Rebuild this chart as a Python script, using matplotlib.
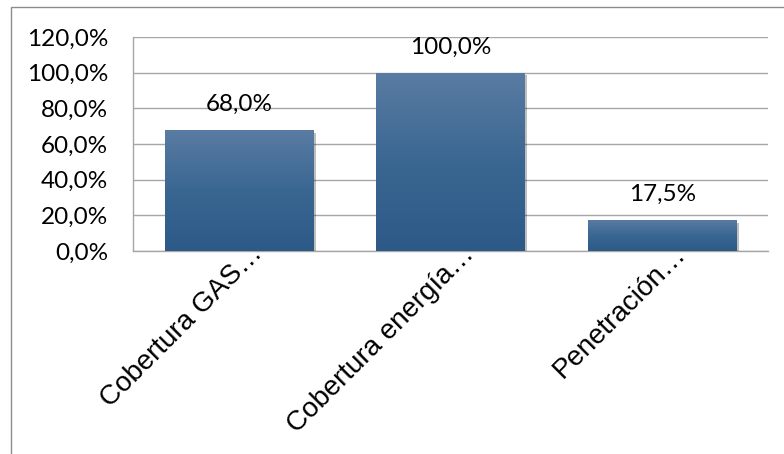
import matplotlib.pyplot as plt
import matplotlib.patheffects as pe
import matplotlib.transforms as mtrans
from matplotlib.patches import Rectangle
from matplotlib.colors import LinearSegmentedColormap
import numpy as np

# datos
categorias = ['Cobertura GAS…', 'Cobertura energía…', 'Penetración…']
valores = [68.0, 100.0, 17.5]
ticks_y = [0, 20, 40, 60, 80, 100, 120]

W, H = 784, 454
fig = plt.figure(figsize=(W / 100, H / 100), dpi=100)

# marco exterior del gráfico (sale del recorte por la derecha y abajo)
fig.patches.append(Rectangle((11 / W, -0.1), 1.2, 1 - 7 / H + 0.1,
                             transform=fig.transFigure, fill=False,
                             edgecolor='#8c8c8c', linewidth=1.0))

ax = fig.add_axes([133 / W, 1 - 251 / H, (768 - 133) / W, (251 - 37) / H])

x = np.arange(len(categorias))
barras = ax.bar(x, valores, width=0.7, color='#2e5a87', zorder=3,
                path_effects=[pe.SimplePatchShadow(offset=(2, -2), alpha=0.25,
                                                   shadow_rgbFace='k'),
                              pe.Normal()])

# degradado vertical en cada barra
grad = np.linspace(0, 1, 256).reshape(-1, 1)
cmap = LinearSegmentedColormap.from_list('barra', ['#2c5986', '#3a6792', '#5a7ca3'])
for b in barras:
    x0, y0 = b.get_x(), b.get_y()
    w, h = b.get_width(), b.get_height()
    im = ax.imshow(grad, cmap=cmap, origin='lower', aspect='auto',
                   extent=[x0, x0 + w, y0, y0 + h], zorder=4)
    im.set_clip_path(b)

for xi, v in zip(x, valores):
    ax.annotate(f'{v:.1f}%'.replace('.', ','), (xi, v), xytext=(0, 11),
                textcoords='offset points', ha='center', va='bottom',
                fontsize=17.5, family='Lato', color='#000000')

ax.set_xlim(-0.5, len(categorias) - 0.5)
ax.set_ylim(0, 120)
ax.set_yticks(ticks_y)
ax.set_yticklabels([f'{t:.1f}%'.replace('.', ',') for t in ticks_y],
                   fontsize=17.5, family='Lato')
ax.yaxis.grid(True, color='#a6a6a6', linewidth=1.0, zorder=0)
ax.set_axisbelow(True)
ax.tick_params(axis='y', length=0, pad=18)
ax.tick_params(axis='x', length=0, pad=0)

ax.set_xticks(x)
ax.set_xticklabels(categorias, rotation=45, ha='right', va='center',
                   rotation_mode='anchor', fontsize=20,
                   family='Liberation Sans')
off = mtrans.ScaledTranslation(20 / 100, 1 / 100, fig.dpi_scale_trans)
for lbl in ax.get_xticklabels():
    lbl.set_transform(lbl.get_transform() + off)

for s in ['top', 'right']:
    ax.spines[s].set_visible(False)
for s in ['left', 'bottom']:
    ax.spines[s].set_color('#a6a6a6')
    ax.spines[s].set_linewidth(1.0)

fig.savefig('out.png', dpi=100)
